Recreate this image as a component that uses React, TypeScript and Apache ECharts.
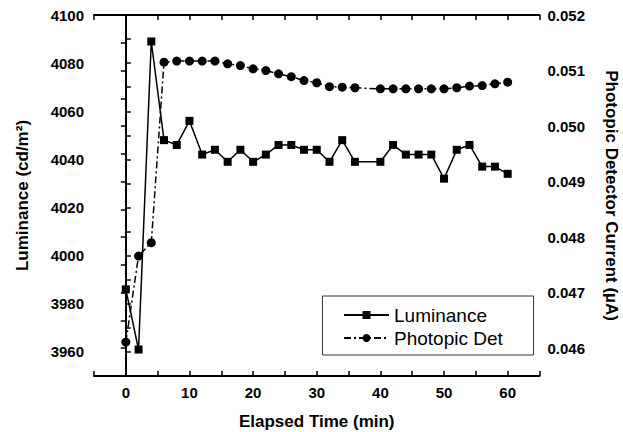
import React, { useEffect, useRef } from 'react';
import * as echarts from 'echarts';

const elapsedTime = [0, 2, 4, 6, 8, 10, 12, 14, 16, 18, 20, 22, 24, 26, 28, 30, 32, 34, 36, 40, 42, 44, 46, 48, 50, 52, 54, 56, 58, 60];
const luminance = [3986, 3961, 4089, 4048, 4046, 4056, 4042, 4044, 4039, 4044, 4039, 4042, 4046, 4046, 4044, 4044, 4039, 4048, 4039, 4039, 4046, 4042, 4042, 4042, 4032, 4044, 4046, 4037, 4037, 4034];
const photopic = [0.04611, 0.04766, 0.0479, 0.05115, 0.05117, 0.05117, 0.05117, 0.05117, 0.05112, 0.05109, 0.05103, 0.051, 0.05094, 0.05089, 0.05082, 0.05078, 0.05071, 0.0507, 0.05069, 0.05067, 0.05067, 0.05067, 0.05067, 0.05067, 0.05067, 0.05069, 0.05072, 0.05073, 0.05076, 0.05079];

const xTickLabels = [0, 10, 20, 30, 40, 50, 60];
const lumTickLabels = [3960, 3980, 4000, 4020, 4040, 4060, 4080, 4100];
const photTickLabels = [0.046, 0.047, 0.048, 0.049, 0.05, 0.051, 0.052];

const FONT = 'Liberation Sans, Arial, Helvetica, sans-serif';

export default function App() {
  const ref = useRef<HTMLDivElement>(null);
  useEffect(() => {
    if (!ref.current) return;
    const chart = echarts.init(ref.current, undefined, { renderer: 'svg' });
    const axisLine = { show: true, lineStyle: { color: '#000', width: 2 } };
    const axisTick = { show: true, inside: true, length: 5, lineStyle: { color: '#000', width: 1.5 } };
    const labelStyle = { color: '#000', fontFamily: FONT, fontWeight: 'bold' as const, fontSize: 15 };
    const nameStyle = { color: '#000', fontFamily: FONT, fontWeight: 'bold' as const, fontSize: 17 };
    chart.setOption({
      animation: false,
      backgroundColor: '#fff',
      grid: { left: 94, right: 83.5, top: 15, bottom: 56, containLabel: false, outerBoundsMode: 'none' },
      xAxis: [
        {
          type: 'value', min: -5, max: 65, interval: 5, position: 'bottom',
          name: 'Elapsed Time (min)', nameLocation: 'middle', nameGap: 37, nameTextStyle: nameStyle,
          axisLine, axisTick, splitLine: { show: false },
          axisLabel: {
            ...labelStyle, margin: 9,
            formatter: (v: number) => (xTickLabels.includes(v) ? String(v) : ''),
          },
        },
        {
          type: 'value', min: -5, max: 65, interval: 5, position: 'top',
          axisLine, axisTick, splitLine: { show: false }, axisLabel: { show: false },
        },
      ],
      yAxis: [
        {
          type: 'value', min: 3950, max: 4100, interval: 10, position: 'left',
          name: 'Luminance (cd/m²)', nameLocation: 'middle', nameGap: 63, nameTextStyle: nameStyle,
          axisLine, axisTick, splitLine: { show: false },
          axisLabel: {
            ...labelStyle, margin: 10,
            formatter: (v: number) => (lumTickLabels.includes(v) ? String(v) : ''),
          },
        },
        {
          type: 'value', min: 0.0455, max: 0.052, interval: 0.0005, position: 'right',
          name: 'Photopic Detector Current (µA)', nameLocation: 'middle', nameGap: 63, nameRotate: -90,
          nameTextStyle: nameStyle,
          axisLine, axisTick, splitLine: { show: false },
          axisLabel: {
            ...labelStyle, margin: 8,
            formatter: (v: number) => (photTickLabels.some((t) => Math.abs(t - v) < 1e-9) ? v.toFixed(3) : ''),
          },
        },
      ],
      legend: {
        orient: 'vertical', left: 343, top: 305, padding: 0, itemGap: 3,
        itemWidth: 45, itemHeight: 10,
        textStyle: { color: '#000', fontFamily: FONT, fontSize: 19, lineHeight: 20 },
        data: ['Luminance', 'Photopic Det'],
      },
      graphic: [
        {
          type: 'rect', shape: { x: 322.5, y: 296, width: 211, height: 59 },
          style: { fill: 'none', stroke: '#333', lineWidth: 1 }, z: 5,
        },
      ],
      series: [
        {
          name: 'Luminance', type: 'line', xAxisIndex: 0, yAxisIndex: 0,
          data: elapsedTime.map((t, i) => [t, luminance[i]]),
          symbol: 'rect', symbolSize: 8, showAllSymbol: true,
          lineStyle: { color: '#000', width: 1.5 }, itemStyle: { color: '#000' },
        },
        {
          name: 'Photopic Det', type: 'line', xAxisIndex: 0, yAxisIndex: 1,
          data: elapsedTime.map((t, i) => [t, photopic[i]]),
          symbol: 'circle', symbolSize: 9, showAllSymbol: true,
          lineStyle: { color: '#000', width: 1.5, type: [7, 3, 2, 3] }, itemStyle: { color: '#000' },
        },
      ],
    });
    return () => chart.dispose();
  }, []);
  return <div ref={ref} style={{ position: 'absolute', left: 0, top: 0, width: 623, height: 432 }} />;
}
